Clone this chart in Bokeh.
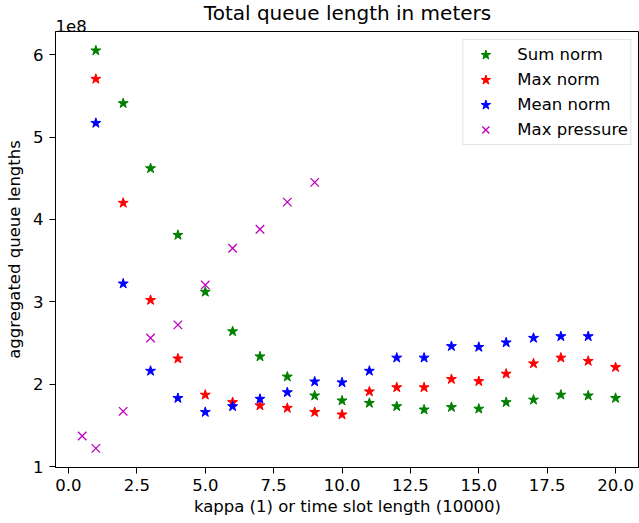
from bokeh.plotting import figure
from bokeh.models import (Range1d, FixedTicker, NumeralTickFormatter, CustomJSTickFormatter,
                          Legend, LegendItem, Title)
from bokeh.embed import file_html
from bokeh.resources import INLINE

# ---- data ----
kappa = [1, 2, 3, 4, 5, 6, 7, 8, 9, 10, 11, 12, 13, 14, 15, 16, 17, 18, 19, 20]
sum_norm = [6.05e8, 5.41e8, 4.62e8, 3.81e8, 3.12e8, 2.64e8, 2.335e8, 2.09e8, 1.86e8, 1.80e8,
            1.77e8, 1.73e8, 1.69e8, 1.72e8, 1.70e8, 1.78e8, 1.81e8, 1.87e8, 1.86e8, 1.83e8]
max_norm = [5.705e8, 4.20e8, 3.02e8, 2.31e8, 1.87e8, 1.78e8, 1.74e8, 1.71e8, 1.66e8, 1.63e8,
            1.91e8, 1.96e8, 1.96e8, 2.06e8, 2.035e8, 2.125e8, 2.25e8, 2.32e8, 2.28e8, 2.205e8]
kappa_mean = [1, 2, 3, 4, 5, 6, 7, 8, 9, 10, 11, 12, 13, 14, 15, 16, 17, 18, 19]
mean_norm = [5.17e8, 3.22e8, 2.16e8, 1.83e8, 1.66e8, 1.73e8, 1.82e8, 1.90e8, 2.03e8, 2.02e8,
             2.16e8, 2.32e8, 2.32e8, 2.46e8, 2.45e8, 2.505e8, 2.56e8, 2.58e8, 2.58e8]
slot_length = [0.5, 1, 2, 3, 4, 5, 6, 7, 8, 9]
max_pressure = [1.37e8, 1.22e8, 1.67e8, 2.56e8, 2.72e8, 3.205e8, 3.65e8, 3.88e8, 4.21e8, 4.45e8]

x_ticks = [0, 2.5, 5, 7.5, 10, 12.5, 15, 17.5, 20]
y_ticks = [1e8, 2e8, 3e8, 4e8, 5e8, 6e8]

FONT = "DejaVu Sans"
FS = "16.5px"

p = figure(width=639, height=523, output_backend="svg", toolbar_location=None,
           x_range=Range1d(-0.475, 20.875), y_range=Range1d(0.988e8, 6.282e8),
           min_border_left=55, min_border_right=0, min_border_top=0, min_border_bottom=56,
           title="Total queue length in meters")

p.title.text_font = FONT
p.title.text_font_size = "20px"
p.title.text_font_style = "normal"
p.title.align = "center"
p.title.text_color = "black"
p.title.standoff = -4

offset_title = Title(text="1e8", align="left", vertical_align="top", text_font=FONT,
                     text_font_size=FS, text_font_style="normal", text_color="black",
                     standoff=-5)
p.add_layout(offset_title, "above")

p.grid.visible = False
p.outline_line_color = "black"
p.outline_line_width = 1

for ax in (p.xaxis[0], p.yaxis[0]):
    ax.axis_line_color = "black"
    ax.major_tick_line_color = "black"
    ax.major_tick_out = 6
    ax.major_tick_in = 0
    ax.minor_tick_line_color = None
    ax.major_label_text_font = FONT
    ax.major_label_text_font_size = FS
    ax.major_label_text_color = "black"
    ax.axis_label_text_font = FONT
    ax.axis_label_text_font_size = FS
    ax.axis_label_text_font_style = "normal"
    ax.axis_label_text_color = "black"

p.xaxis.major_label_standoff = 5
p.xaxis.axis_label_standoff = 3
p.yaxis.major_label_standoff = 6
p.yaxis.axis_label_standoff = 6

p.xaxis.ticker = FixedTicker(ticks=x_ticks)
p.xaxis.formatter = NumeralTickFormatter(format="0.0")
p.yaxis.ticker = FixedTicker(ticks=y_ticks)
p.yaxis.formatter = CustomJSTickFormatter(code="return (tick/1e8).toFixed(0);")
p.xaxis.axis_label = "kappa (1) or time slot length (10000)"
p.yaxis.axis_label = "aggregated queue lengths"

r1 = p.scatter(kappa, sum_norm, marker="star", size=10.5, fill_color="#008000", line_color="#008000")
r2 = p.scatter(kappa, max_norm, marker="star", size=10.5, fill_color="#ff0000", line_color="#ff0000")
r3 = p.scatter(kappa_mean, mean_norm, marker="star", size=10.5, fill_color="#0000ff", line_color="#0000ff")
r4 = p.scatter(slot_length, max_pressure, marker="x", size=12, line_color="#bf00bf", line_width=1.3)

legend = Legend(items=[LegendItem(label="Sum norm", renderers=[r1]),
                       LegendItem(label="Max norm", renderers=[r2]),
                       LegendItem(label="Mean norm", renderers=[r3]),
                       LegendItem(label="Max pressure", renderers=[r4])],
                location="top_right", margin=8, padding=2, spacing=0,
                glyph_width=40, glyph_height=25, label_standoff=12, label_height=20,
                label_text_font=FONT, label_text_font_size=FS,
                label_text_color="black",
                border_line_color="#cccccc", border_line_width=1,
                background_fill_color="white", background_fill_alpha=0.8)
p.add_layout(legend, "center")

open("out.html", "w").write(file_html(p, INLINE))
